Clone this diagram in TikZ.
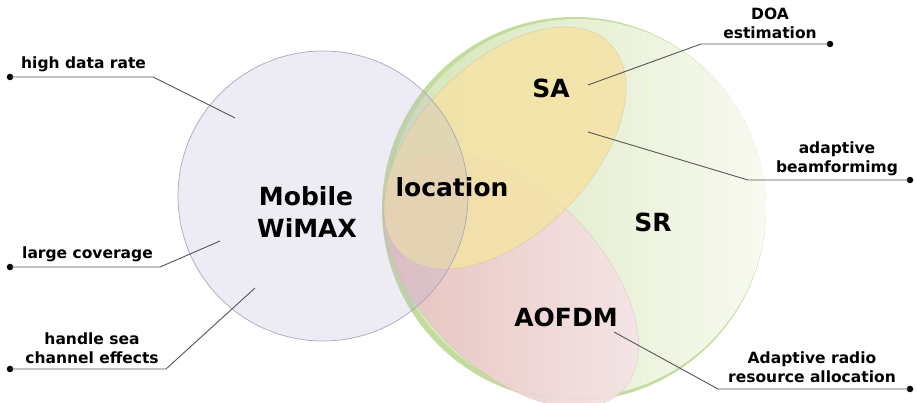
\documentclass[tikz,border=0pt]{standalone}
\usepackage{fontspec}
\setmainfont{DejaVu Sans}
\definecolor{wimaxfill}{HTML}{B8B0D0}
\definecolor{wimaxline}{HTML}{ABA6BE}
\definecolor{greenrim}{HTML}{C4DB9E}
\definecolor{greenL}{HTML}{D4E5B6}
\definecolor{greenR}{HTML}{F8FAF1}
\definecolor{yellowfill}{HTML}{F4E3A6}
\definecolor{pinkA}{HTML}{E6BFBD}
\definecolor{pinkB}{HTML}{F6E7E9}
\definecolor{leadgray}{HTML}{555555}
\tikzset{
  big/.style={font=\fontsize{25}{28}\selectfont\bfseries, inner sep=0pt, anchor=base},
  small/.style={font=\fontsize{15.5}{19}\selectfont\bfseries, inner sep=0pt, anchor=base, align=center},
  leader/.style={draw=leadgray, line width=0.9pt},
  dotnode/.style={circle, fill=black, inner sep=0pt, minimum size=6.5pt},
}
\begin{document}
\begin{tikzpicture}[x=1pt, y=-1pt]
\useasboundingbox (0,0) rectangle (916,403);
% SR circle
\fill[greenrim] (574,209) circle [radius=192pt];
\shade[left color=greenL, right color=greenR] (577,208) circle [radius=189pt];
% AOFDM ellipse
\begin{scope}[shift={(511,280)}, rotate=-45]
  \shade[left color=pinkA, right color=pinkB, fill opacity=0.95] (0,0) ellipse [x radius=157pt, y radius=89pt];
  \draw[pinkA!80!black, opacity=0.25, line width=0.6pt] (0,0) ellipse [x radius=157pt, y radius=89pt];
\end{scope}
% SA ellipse
\begin{scope}[shift={(505,148)}, rotate=45]
  \fill[yellowfill, fill opacity=0.88] (0,0) ellipse [x radius=148pt, y radius=86pt];
  \draw[yellowfill!70!black, opacity=0.25, line width=0.6pt] (0,0) ellipse [x radius=148pt, y radius=86pt];
\end{scope}
% Mobile WiMAX circle
\fill[wimaxfill, fill opacity=0.25] (323,196) circle [radius=145pt];
\draw[wimaxline, line width=0.7pt] (323,196) circle [radius=145pt];

% big labels
\node[big] (mob) at (306,206) {Mobile};
\node[big] (wim) at (307,238) {WiMAX};
\node[big] (loc) at (452,197) {location};
\node[big] (sa) at (551,98) {SA};
\node[big] (sr) at (653,232) {SR};
\node[big] (aofdm) at (566,327) {AOFDM};

% small labels
\node[small, anchor=base west] (t1) at (21,69) {high data rate};
\node[small, anchor=base west] (t2) at (22,259) {large coverage};
\node[small] (t3) at (92,363) {handle sea\\channel effects};
\node[small] (t4) at (770,39) {DOA\\estimation};
\node[small] (t5) at (837,173) {adaptive\\beamformimg};
\node[small] (t6) at (812,382) {Adaptive radio\\resource allocation};

% leaders
\node[dotnode] (d1) at (10,77) {};
\coordinate (k1) at (153,77);
\coordinate (e1) at (235,118);
\node[dotnode] (d2) at (10,267) {};
\coordinate (k2) at (160,267);
\coordinate (e2) at (220,241);
\node[dotnode] (d3) at (10,369) {};
\coordinate (k3) at (166,369);
\coordinate (e3) at (255,288);
\node[dotnode] (d4) at (830,44) {};
\coordinate (k4) at (701,44);
\coordinate (e4) at (588,85);
\node[dotnode] (d5) at (910,180) {};
\coordinate (k5) at (748,180);
\coordinate (e5) at (588,132);
\node[dotnode] (d6) at (910,389) {};
\coordinate (k6) at (718,389);
\coordinate (e6) at (614,332);
\foreach \i in {1,...,6} {
  \draw[leader] (d\i.center) -- (k\i) -- (e\i);
}
\end{tikzpicture}
\end{document}
